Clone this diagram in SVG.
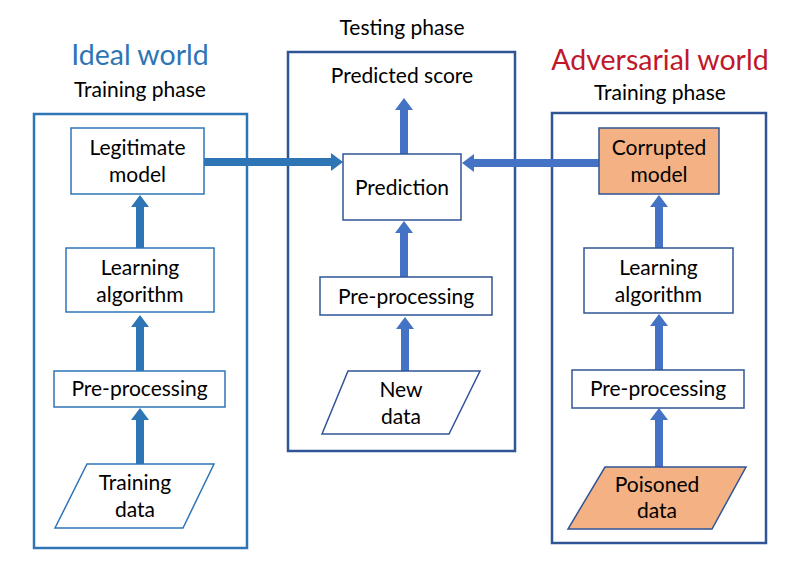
<svg xmlns="http://www.w3.org/2000/svg" width="790" height="582" viewBox="0 0 790 582">
<defs>
<marker id="hA" viewBox="0 0 12 18" markerWidth="12" markerHeight="18" refX="0" refY="9" orient="auto" markerUnits="userSpaceOnUse"><path d="M0,0 L12,9 L0,18 z" fill="#2E75B6"/></marker>
<marker id="hB" viewBox="0 0 12 18" markerWidth="12" markerHeight="18" refX="0" refY="9" orient="auto" markerUnits="userSpaceOnUse"><path d="M0,0 L12,9 L0,18 z" fill="#4472C4"/></marker>
</defs>
<style>
text{font-family:Lato,"Liberation Sans",sans-serif;font-size:21px;fill:#000;text-anchor:middle}
.t1{font-size:28.5px}
.frameA{fill:none;stroke:#2E75B6;stroke-width:2.5}
.frameB{fill:none;stroke:#2F5597;stroke-width:2.5}
.nA{fill:#fff;stroke:#2E75B6;stroke-width:1.5}
.nB{fill:#fff;stroke:#2F5597;stroke-width:1.5}
.nO{fill:#F4B183;stroke:#2F5597;stroke-width:1.5}
.aA{stroke:#2E75B6;stroke-width:8;marker-end:url(#hA)}
.aB{stroke:#4472C4;stroke-width:8;marker-end:url(#hB)}
</style>
<rect width="790" height="582" fill="#fff"/>
<g id="frames">
<rect class="frameA" x="34" y="114" width="213" height="434"/>
<rect class="frameB" x="288" y="52" width="227" height="399"/>
<rect class="frameB" x="552" y="113" width="214" height="430"/>
</g>
<g id="titles">
<text class="t1" x="140" y="65" style="fill:#2E75B6">Ideal world</text>
<text x="140" y="97">Training phase</text>
<text x="402" y="35">Testing phase</text>
<text x="402" y="83">Predicted score</text>
<text class="t1" x="660" y="70" style="fill:#C0182A">Adversarial world</text>
<text x="660" y="100">Training phase</text>
</g>
<g id="connectors">
<line class="aA" x1="140" y1="464" x2="140" y2="420"/>
<line class="aA" x1="140" y1="371" x2="140" y2="327"/>
<line class="aA" x1="140" y1="248" x2="140" y2="207"/>
<line class="aA" x1="204" y1="162" x2="331" y2="162"/>
<line class="aB" x1="599" y1="163" x2="474" y2="163"/>
<line class="aB" x1="404" y1="154" x2="404" y2="110"/>
<line class="aB" x1="404" y1="277" x2="404" y2="233"/>
<line class="aB" x1="405" y1="371" x2="405" y2="329"/>
<line class="aB" x1="659" y1="467" x2="659" y2="420"/>
<line class="aB" x1="659" y1="370" x2="659" y2="326"/>
<line class="aB" x1="659" y1="248" x2="659" y2="207"/>
</g>
<g id="legitimate-model">
<rect class="nA" x="71" y="128" width="133" height="66"/>
<text x="137.5" y="155">Legitimate</text>
<text x="137.5" y="182">model</text>
</g>
<g id="learning-left">
<rect class="nA" x="66" y="248" width="148" height="64"/>
<text x="140" y="275">Learning</text>
<text x="140" y="302">algorithm</text>
</g>
<g id="preproc-left">
<rect class="nA" x="54" y="371" width="171" height="36"/>
<text x="139.5" y="396">Pre-processing</text>
</g>
<g id="training-data">
<polygon class="nA" points="87,464 214,464 183,528 55,528"/>
<text x="135" y="490">Training</text>
<text x="135" y="517">data</text>
</g>
<g id="prediction">
<rect class="nB" x="343" y="154" width="118" height="66"/>
<text x="402" y="195">Prediction</text>
</g>
<g id="preproc-mid">
<rect class="nB" x="320" y="277" width="172" height="38"/>
<text x="406" y="304">Pre-processing</text>
</g>
<g id="new-data">
<polygon class="nB" points="348,371 480,371 449,434 322,434"/>
<text x="401" y="397">New</text>
<text x="401" y="424">data</text>
</g>
<g id="corrupted-model">
<rect class="nO" x="599" y="128" width="120" height="66"/>
<text x="659" y="155">Corrupted</text>
<text x="659" y="182">model</text>
</g>
<g id="learning-right">
<rect class="nB" x="584" y="248" width="149" height="65"/>
<text x="658.5" y="275">Learning</text>
<text x="658.5" y="302">algorithm</text>
</g>
<g id="preproc-right">
<rect class="nB" x="572" y="370" width="172" height="38"/>
<text x="658" y="396">Pre-processing</text>
</g>
<g id="poisoned-data">
<polygon class="nO" points="605,467 746,467 712,529 568,529"/>
<text x="657" y="492">Poisoned</text>
<text x="657" y="518">data</text>
</g>
</svg>
